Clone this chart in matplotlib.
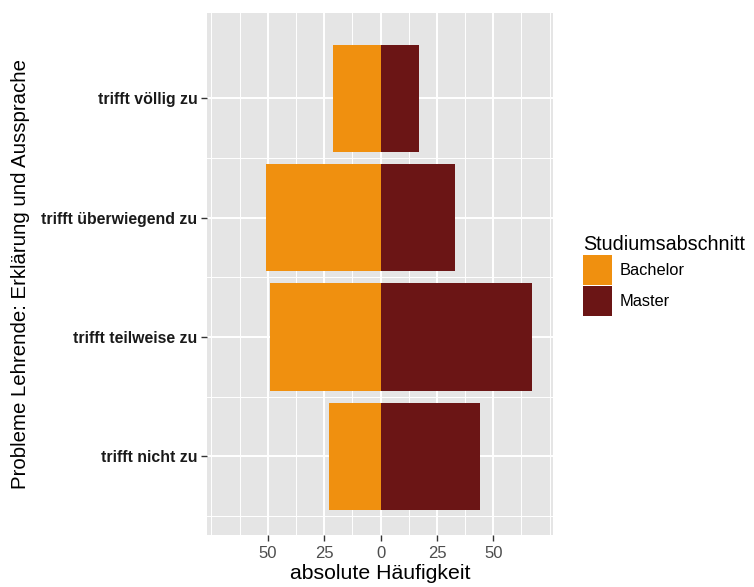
import matplotlib.pyplot as plt
from matplotlib.patches import Patch
from matplotlib.ticker import FixedLocator, FuncFormatter

# data (absolute counts)
categories = ["trifft nicht zu", "trifft teilweise zu", "trifft überwiegend zu", "trifft völlig zu"]
bachelor = [23, 49, 51, 21]
master = [44, 67, 33, 17]
x_ticks = [-50, -25, 0, 25, 50]
x_minor = [-75, -62.5, -37.5, -12.5, 12.5, 37.5, 62.5, 75]

ORANGE = "#F0900F"
DARKRED = "#6B1515"

plt.rcParams['font.family'] = ['Liberation Sans', 'DejaVu Sans']

fig = plt.figure(figsize=(7.54, 5.87), dpi=100)
ax = fig.add_axes([0.2745, 0.0886, 0.459, 0.889])
ax.set_facecolor("#E5E5E5")

ypos = list(range(1, len(categories) + 1))
ax.barh(ypos, [-b for b in bachelor], height=0.9, color=ORANGE, zorder=3)
ax.barh(ypos, master, height=0.9, color=DARKRED, zorder=3)

ax.set_xlim(-77, 76.5)
ax.set_ylim(0.34, 4.715)

ax.xaxis.set_major_locator(FixedLocator(x_ticks))
ax.xaxis.set_minor_locator(FixedLocator(x_minor))
ax.xaxis.set_major_formatter(FuncFormatter(lambda v, p: f"{abs(int(v))}"))
ax.set_yticks(ypos)
ax.set_yticks([y + 0.5 for y in ypos[:-1]] + [0.5], minor=True)
ax.set_yticklabels(categories, fontweight='bold', fontsize=11.4, color='#1a1a1a')

ax.grid(which='major', color='white', linewidth=1.4, zorder=0)
ax.grid(which='minor', color='white', linewidth=0.7, zorder=0)
ax.set_axisbelow(True)
for s in ax.spines.values():
    s.set_visible(False)

ax.tick_params(axis='both', which='major', length=4, width=1, color='#333333')
ax.tick_params(axis='both', which='minor', length=0)
ax.tick_params(axis='x', labelsize=12, labelcolor='#4d4d4d', pad=4)
ax.tick_params(axis='y', pad=3)

ax.set_xlabel("absolute Häufigkeit", fontsize=15.3, labelpad=2)
ax.set_ylabel("Probleme Lehrende: Erklärung und Aussprache", fontsize=14.7, labelpad=8)

handles = [Patch(facecolor=ORANGE, label="Bachelor"),
           Patch(facecolor=DARKRED, label="Master")]
leg = fig.legend(handles=handles, title="Studiumsabschnitt",
                 loc='upper left', bbox_to_anchor=(0.773, 0.6),
                 frameon=False, fontsize=11.8, title_fontsize=14.2,
                 handlelength=1.75, handleheight=2.4, handletextpad=0.5,
                 labelspacing=0.08, alignment='left', borderpad=0.0,
                 borderaxespad=0.0)

fig.savefig("out.png", dpi=100)
